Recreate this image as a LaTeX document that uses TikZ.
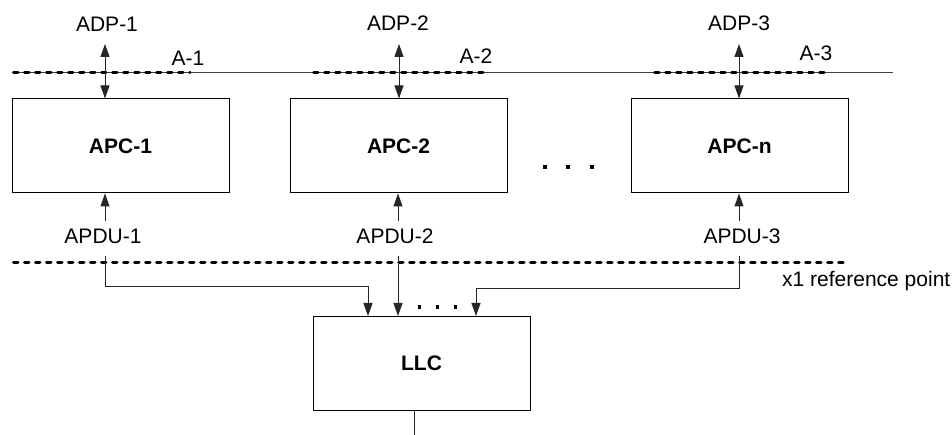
\documentclass[tikz,border=0pt]{standalone}
\usepackage{fontspec}
\setmainfont{Liberation Sans}
\usetikzlibrary{arrows.meta}
\tikzset{
  box/.style={draw, line width=1pt, minimum width=217pt, minimum height=94pt, inner sep=0pt, font=\fontsize{21}{25}\selectfont\bfseries},
  lbl/.style={inner sep=0pt, font=\fontsize{21}{25}\selectfont, anchor=base},
  conn/.style={line width=1pt, draw=black!85},
  arr/.style={conn, -{Triangle[length=13pt,width=9pt]}},
  darr/.style={conn, {Triangle[length=13pt,width=9pt]}-{Triangle[length=13pt,width=9pt]}},
  refline/.style={line width=3pt, line cap=round, dash pattern=on 4.5pt off 6.5pt},
  thinline/.style={line width=1pt, draw=black!75},
  dotsq/.style={fill=black, inner sep=0pt, minimum size=#1, draw=none},
}
\begin{document}
\begin{tikzpicture}[x=1pt,y=-1pt]
\useasboundingbox (0,0) rectangle (952,435);

% interface line at top
\coordinate (tl) at (12,72.7);
\coordinate (tr) at (893,72.7);
\draw[thinline] (tl) -- (tr);
\draw[refline] (13.5,72.7) -- (190,72.7);
\draw[refline] (313.5,72.7) -- (485,72.7);
\draw[refline] (654.5,72.7) -- (825,72.7);

% boxes
\node[box] (apc1) at (120.5,146) {APC-1};
\node[box] (apc2) at (398.5,146) {APC-2};
\node[box] (apc3) at (739.5,146) {APC-n};
\node[box] (llc) at (421.5,363.5) {LLC};

% labels
\node[lbl] (adp1) at (107,32) {ADP-1};
\node[lbl] (adp2) at (398,31) {ADP-2};
\node[lbl] (adp3) at (739,31) {ADP-3};
\node[lbl] (a1) at (188,65.5) {A-1};
\node[lbl] (a2) at (476,63.3) {A-2};
\node[lbl] (a3) at (816,61) {A-3};
\node[lbl] (apdu1) at (103,244) {APDU-1};
\node[lbl] (apdu2) at (395,244) {APDU-2};
\node[lbl] (apdu3) at (742,244) {APDU-3};
\node[lbl, anchor=base west] (x1) at (782,287) {x1 reference point};

% ADP arrows
\coordinate (t1) at (105,44);
\coordinate (t2) at (399,44);
\coordinate (t3) at (739,44);
\draw[darr] (t1) -- (t1 |- apc1.north);
\draw[darr] (t2) -- (t2 |- apc2.north);
\draw[darr] (t3) -- (t3 |- apc3.north);

% APDU up arrows
\coordinate (u1) at (105,221);
\coordinate (u2) at (398,221);
\coordinate (u3) at (739,221);
\draw[arr] (u1) -- (u1 |- apc1.south);
\draw[arr] (u2) -- (u2 |- apc2.south);
\draw[arr] (u3) -- (u3 |- apc3.south);

% x1 reference line
\draw[refline] (13.5,263) -- (847,263);

% down paths to LLC
\coordinate (d1) at (105,256);
\coordinate (d2) at (398,256);
\coordinate (d3) at (739,256);
\coordinate (e1) at (368,287);
\coordinate (e3) at (476,289);
\draw[arr] (d1) |- (e1) -- (e1 |- llc.north);
\draw[arr] (d2) -- (d2 |- llc.north);
\draw[arr] (d3) |- (e3) -- (e3 |- llc.north);

% LLC bottom line
\coordinate (bot) at (414,435);
\draw[conn] (bot |- llc.south) -- (bot);

% ellipsis dots
\node[dotsq=3pt] (s1) at (419,307) {};
\node[dotsq=3pt] (s2) at (437,307) {};
\node[dotsq=3pt] (s3) at (455,307) {};
\node[dotsq=4pt] (m1) at (545,167) {};
\node[dotsq=4pt] (m2) at (568,167) {};
\node[dotsq=4pt] (m3) at (592,167) {};
\end{tikzpicture}
\end{document}
